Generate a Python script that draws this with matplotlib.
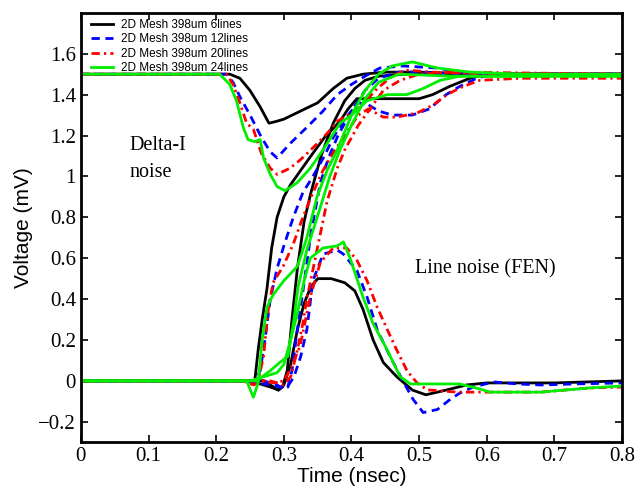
import matplotlib
matplotlib.use("Agg")
import matplotlib.pyplot as plt
from matplotlib.ticker import FuncFormatter

# ---------------- data (time in nsec, voltage in mV) ----------------
labels = ["2D Mesh 398um 6lines", "2D Mesh 398um 12lines",
          "2D Mesh 398um 20lines", "2D Mesh 398um 24lines"]

# black: 6 lines
k_delta_t = [0, 0.22, 0.235, 0.25, 0.265, 0.278, 0.29, 0.30, 0.325, 0.35, 0.373, 0.393, 0.417, 0.45, 0.5, 0.6, 0.7, 0.8]
k_delta_v = [1.5, 1.5, 1.48, 1.42, 1.34, 1.26, 1.27, 1.28, 1.32, 1.36, 1.43, 1.48, 1.50, 1.51, 1.51, 1.50, 1.50, 1.50]
k_risea_t = [0, 0.25, 0.257, 0.262, 0.268, 0.275, 0.282, 0.29, 0.30, 0.31, 0.325, 0.34, 0.36, 0.383, 0.395, 0.408, 0.43, 0.47, 0.50, 0.52, 0.545, 0.575, 0.60, 0.7, 0.8]
k_risea_v = [0, 0, 0.0, 0.15, 0.30, 0.45, 0.65, 0.80, 0.90, 0.96, 1.03, 1.10, 1.19, 1.27, 1.33, 1.38, 1.38, 1.38, 1.38, 1.40, 1.44, 1.48, 1.50, 1.50, 1.50]
k_riseb_t = [0, 0.27, 0.285, 0.292, 0.298, 0.305, 0.312, 0.32, 0.33, 0.34, 0.355, 0.373, 0.39, 0.405, 0.42, 0.44, 0.48, 0.6, 0.8]
k_riseb_v = [0, 0, -0.03, -0.045, -0.03, 0.05, 0.3, 0.55, 0.78, 0.92, 1.10, 1.26, 1.37, 1.43, 1.47, 1.49, 1.50, 1.50, 1.50]
k_line_t = [0, 0.24, 0.26, 0.28, 0.292, 0.30, 0.31, 0.32, 0.33, 0.34, 0.35, 0.37, 0.39, 0.405, 0.417, 0.432, 0.447, 0.467, 0.49, 0.51, 0.54, 0.57, 0.60, 0.70, 0.80]
k_line_v = [0, 0, -0.01, -0.03, -0.045, -0.02, 0.08, 0.25, 0.38, 0.46, 0.50, 0.50, 0.48, 0.44, 0.35, 0.20, 0.09, 0.02, -0.045, -0.068, -0.045, -0.02, -0.01, -0.01, 0.0]

# blue: 12 lines
b_delta_t = [0, 0.215, 0.225, 0.235, 0.25, 0.267, 0.28, 0.29, 0.309, 0.334, 0.358, 0.379, 0.40, 0.42, 0.442, 0.476, 0.527, 0.575, 0.62, 0.8]
b_delta_v = [1.5, 1.5, 1.46, 1.39, 1.30, 1.19, 1.12, 1.09, 1.16, 1.24, 1.32, 1.40, 1.45, 1.49, 1.53, 1.54, 1.53, 1.50, 1.50, 1.50]
b_risea_t = [0, 0.258, 0.265, 0.272, 0.28, 0.29, 0.30, 0.314, 0.328, 0.343, 0.36, 0.373, 0.39, 0.41, 0.425, 0.44, 0.46, 0.49, 0.515, 0.54, 0.56, 0.585, 0.61, 0.8]
b_risea_v = [0, 0, 0.05, 0.2, 0.4, 0.55, 0.66, 0.80, 0.92, 1.0, 1.10, 1.19, 1.28, 1.36, 1.35, 1.32, 1.30, 1.30, 1.33, 1.40, 1.44, 1.48, 1.50, 1.50]
b_riseb_t = [0, 0.27, 0.29, 0.30, 0.306, 0.312, 0.32, 0.33, 0.34, 0.354, 0.366, 0.38, 0.40, 0.42, 0.44, 0.47, 0.50, 0.55, 0.8]
b_riseb_v = [0, 0, -0.02, -0.04, -0.03, 0.05, 0.25, 0.48, 0.72, 0.97, 1.09, 1.20, 1.32, 1.42, 1.48, 1.51, 1.51, 1.50, 1.50]
b_line_t = [0, 0.24, 0.26, 0.28, 0.295, 0.305, 0.315, 0.325, 0.334, 0.343, 0.358, 0.379, 0.388, 0.408, 0.423, 0.438, 0.457, 0.476, 0.491, 0.506, 0.527, 0.546, 0.56, 0.58, 0.61, 0.645, 0.68, 0.73, 0.8]
b_line_v = [0, 0, -0.01, -0.02, -0.03, -0.03, 0.02, 0.12, 0.25, 0.49, 0.62, 0.64, 0.62, 0.54, 0.41, 0.25, 0.12, 0.0, -0.09, -0.155, -0.14, -0.09, -0.06, -0.03, -0.005, -0.015, -0.02, -0.015, -0.01]

# red: 20 lines
r_delta_t = [0, 0.215, 0.225, 0.235, 0.245, 0.255, 0.267, 0.28, 0.29, 0.309, 0.324, 0.343, 0.364, 0.379, 0.40, 0.413, 0.438, 0.46, 0.48, 0.52, 0.6, 0.8]
r_delta_v = [1.5, 1.5, 1.45, 1.36, 1.26, 1.23, 1.11, 1.04, 1.01, 1.04, 1.08, 1.14, 1.21, 1.27, 1.31, 1.34, 1.43, 1.49, 1.52, 1.51, 1.50, 1.50]
r_risea_t = [0, 0.262, 0.27, 0.277, 0.284, 0.299, 0.314, 0.328, 0.343, 0.358, 0.37, 0.39, 0.41, 0.425, 0.447, 0.467, 0.497, 0.521, 0.541, 0.565, 0.59, 0.65, 0.8]
r_risea_v = [0, 0, 0.12, 0.35, 0.48, 0.56, 0.67, 0.80, 0.92, 1.03, 1.10, 1.20, 1.30, 1.33, 1.29, 1.29, 1.31, 1.35, 1.40, 1.44, 1.47, 1.48, 1.48]
r_riseb_t = [0, 0.28, 0.29, 0.30, 0.31, 0.32, 0.328, 0.334, 0.349, 0.364, 0.379, 0.39, 0.41, 0.423, 0.447, 0.472, 0.50, 0.55, 0.8]
r_riseb_v = [0, 0, -0.01, -0.02, 0.02, 0.15, 0.28, 0.40, 0.64, 0.88, 1.04, 1.13, 1.25, 1.31, 1.42, 1.47, 1.50, 1.51, 1.50]
r_line_t = [0, 0.24, 0.255, 0.27, 0.285, 0.30, 0.31, 0.324, 0.339, 0.354, 0.373, 0.393, 0.408, 0.423, 0.438, 0.453, 0.467, 0.482, 0.497, 0.512, 0.536, 0.556, 0.6, 0.68, 0.75, 0.8]
r_line_v = [0, 0, -0.02, 0.0, -0.01, 0.0, 0.06, 0.17, 0.41, 0.58, 0.65, 0.65, 0.59, 0.49, 0.36, 0.25, 0.15, 0.05, -0.01, -0.044, -0.05, -0.055, -0.055, -0.055, -0.035, -0.03]

# green: 24 lines
g_delta_t = [0, 0.205, 0.22, 0.23, 0.24, 0.247, 0.257, 0.265, 0.27, 0.28, 0.29, 0.302, 0.32, 0.339, 0.358, 0.383, 0.40, 0.423, 0.453, 0.482, 0.506, 0.531, 0.56, 0.65, 0.8]
g_delta_v = [1.5, 1.5, 1.45, 1.37, 1.24, 1.18, 1.17, 1.18, 1.09, 1.01, 0.95, 0.93, 0.97, 1.04, 1.13, 1.26, 1.30, 1.37, 1.40, 1.40, 1.43, 1.47, 1.49, 1.49, 1.49]
g_risea_t = [0, 0.245, 0.255, 0.262, 0.268, 0.275, 0.284, 0.30, 0.32, 0.334, 0.349, 0.364, 0.379, 0.40, 0.42, 0.44, 0.46, 0.49, 0.527, 0.575, 0.65, 0.8]
g_risea_v = [0, 0, -0.08, -0.01, 0.2, 0.36, 0.42, 0.49, 0.56, 0.70, 0.90, 1.03, 1.13, 1.30, 1.42, 1.50, 1.54, 1.56, 1.53, 1.51, 1.50, 1.50]
g_riseb_t = [0, 0.235, 0.26, 0.28, 0.294, 0.306, 0.315, 0.321, 0.334, 0.354, 0.368, 0.383, 0.40, 0.42, 0.44, 0.47, 0.55, 0.8]
g_riseb_v = [0, 0, 0.0, 0.05, 0.09, 0.12, 0.30, 0.46, 0.64, 0.85, 1.00, 1.13, 1.25, 1.38, 1.46, 1.50, 1.49, 1.49]
g_line_t = [0, 0.25, 0.26, 0.27, 0.29, 0.30, 0.31, 0.32, 0.33, 0.339, 0.358, 0.379, 0.388, 0.398, 0.417, 0.432, 0.453, 0.472, 0.487, 0.52, 0.56, 0.59, 0.605, 0.63, 0.68, 0.75, 0.8]
g_line_v = [0, 0, 0.01, 0.02, 0.04, 0.08, 0.20, 0.33, 0.49, 0.60, 0.65, 0.66, 0.68, 0.60, 0.41, 0.28, 0.15, 0.02, -0.015, -0.015, -0.015, -0.04, -0.055, -0.055, -0.055, -0.035, -0.025]

x_ticks = [0, 0.1, 0.2, 0.3, 0.4, 0.5, 0.6, 0.7, 0.8]
y_ticks = [-0.2, 0, 0.2, 0.4, 0.6, 0.8, 1.0, 1.2, 1.4, 1.6]

# ---------------- plot ----------------
series = [
    ("black", "-", [(k_delta_t, k_delta_v), (k_risea_t, k_risea_v), (k_riseb_t, k_riseb_v), (k_line_t, k_line_v)]),
    ("#0000ff", (0, (3.0, 2.0)), [(b_delta_t, b_delta_v), (b_risea_t, b_risea_v), (b_riseb_t, b_riseb_v), (b_line_t, b_line_v)]),
    ("#ff0000", (0, (3.0, 1.5, 0.8, 1.5)), [(r_delta_t, r_delta_v), (r_risea_t, r_risea_v), (r_riseb_t, r_riseb_v), (r_line_t, r_line_v)]),
    ("#00ee00", "-", [(g_delta_t, g_delta_v), (g_risea_t, g_risea_v), (g_riseb_t, g_riseb_v), (g_line_t, g_line_v)]),
]

fig = plt.figure(figsize=(6.42, 4.93), dpi=100)
ax = fig.add_axes([0.126, 0.103, 0.843, 0.871])

handles = []
for (color, ls, curves), lab in zip(series, labels):
    for i, (t, v) in enumerate(curves):
        ln, = ax.plot(t, v, color=color, linestyle=ls, linewidth=2.0,
                      label=lab if i == 0 else None)
        if i == 0:
            handles.append(ln)

ax.set_xlim(0, 0.8)
ax.set_ylim(-0.3, 1.8)
ax.set_xticks(x_ticks)
ax.set_yticks(y_ticks)
fmt = FuncFormatter(lambda v, p: ('%g' % round(v, 3)).replace('-', '\u2212'))
ax.xaxis.set_major_formatter(fmt)
ax.yaxis.set_major_formatter(fmt)
ax.tick_params(direction='in', top=True, right=True, length=5, width=1.2,
               labelsize=15)
for lab in ax.get_xticklabels() + ax.get_yticklabels():
    lab.set_family('Liberation Serif')
for sp in ax.spines.values():
    sp.set_linewidth(2.0)

ax.set_xlabel("Time (nsec)", fontsize=15, family='Liberation Sans', labelpad=1)
ax.set_ylabel("Voltage (mV)", fontsize=15, family='Liberation Sans', labelpad=4)

leg = ax.legend(handles=handles, loc='upper left', frameon=False,
                prop={'family': 'Liberation Sans', 'size': 8.5},
                handlelength=1.8, handletextpad=0.7, labelspacing=0.2,
                borderaxespad=0.3, bbox_to_anchor=(0.004, 1.005))

ax.text(0.072, 1.15, "Delta-I", family='Liberation Serif', fontsize=14.5,
        ha='left', va='center')
ax.text(0.072, 1.02, "noise", family='Liberation Serif', fontsize=14.5,
        ha='left', va='center')
ax.text(0.494, 0.55, "Line noise (FEN)", family='Liberation Serif', fontsize=14.5,
        ha='left', va='center')

fig.savefig("out.png", dpi=100)
